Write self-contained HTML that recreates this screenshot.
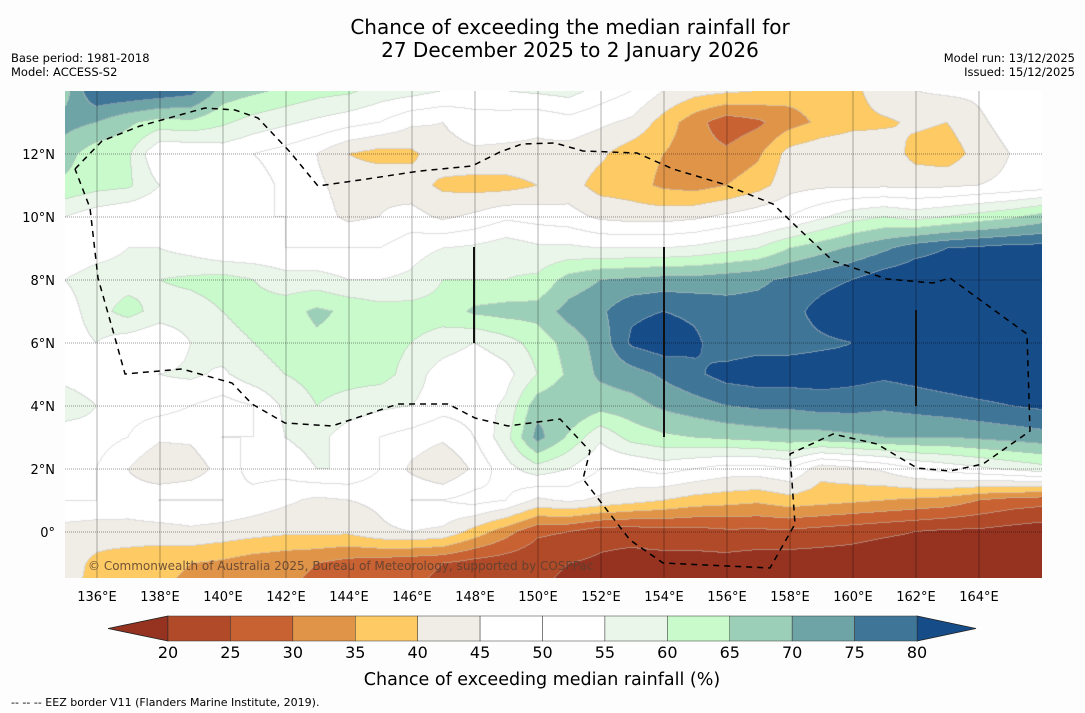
<!DOCTYPE html>
<html><head><meta charset="utf-8"><title>Chance of exceeding the median rainfall</title>
<style>
html,body{margin:0;padding:0;background:#fdfdfd;}
#wrap{position:relative;width:1085px;height:713px;overflow:hidden;font-family:"DejaVu Sans","Liberation Sans",sans-serif;color:#111;}
#map{position:absolute;left:65px;top:91px;}
svg{position:absolute;left:0;top:0;}
</style></head>
<body>
<div id="wrap">
<canvas id="map" width="977" height="487"></canvas>
<svg id="ov" width="1085" height="713">
  <text x="570" y="34" text-anchor="middle" font-size="20">Chance of exceeding the median rainfall for</text>
  <text x="570" y="57" text-anchor="middle" font-size="20">27 December 2025 to 2 January 2026</text>
  <text x="11" y="62" font-size="11.5">Base period: 1981-2018</text>
  <text x="11" y="76" font-size="11.5">Model: ACCESS-S2</text>
  <text x="1075" y="62" font-size="11.5" text-anchor="end">Model run: 13/12/2025</text>
  <text x="1075" y="76" font-size="11.5" text-anchor="end">Issued: 15/12/2025</text>
  <g id="grid"></g>
  <g id="eez"></g>
  <g id="axes"></g>
  <text x="88" y="570" font-size="12" fill="#5a4030" fill-opacity="0.85">© Commonwealth of Australia 2025, Bureau of Meteorology, supported by COSPPac</text>
  <g id="cbar"></g>
  <text x="542" y="685" text-anchor="middle" font-size="17.5">Chance of exceeding median rainfall (%)</text>
  <text x="11" y="706" font-size="11">--  --  -- EEZ border V11 (Flanders Marine Institute, 2019).</text>
</svg>
</div>
<script>
// grid longitudes 135..166, latitudes 14..-2
const lonStart = 135;
const latStart = 14;
const r14 = [68,80,80,79,77,68,66,64,62,61,58,57,55,53,55,56,57,53,50,45,42,41,40,37,37,38,44,45,46,46,48,50];
const r13 = [72,70,66,63,64,61,58,56,54,52,50,46,45,48,47,46,48,46,44,38,32,27,29,33,36,38,39,41,40,44,47,48];
const r12 = [67,62,61,50,50,52,50,48,45,40,38,39,43,44,44,44,43,41,37,35,32,31,34,42,44,45,44,38,37,42,45,46];
const r11 = [64,62,61,55,50,50,52,49,46,43,44,42,39,38,38,40,42,38,37,34,33,35,38,43,44,44,44,44,44,45,46,47];
const r10 = [55,52,50,50,50,50,50,50,47,44,45,47,44,46,49,48,47,44,43,43,44,46,48,50,54,58,60,58,60,62,64,67];
const r9  = [50,52,55,55,53,50,50,50,50,50,50,53,55,56,58,56,56,55,55,55,56,58,60,65,68,71,74,78,80,81,82,82];
const r8  = [55,58,58,60,61,62,60,57,57,55,55,56,60,60,60,61,67,70,71,72,72,73,74,76,78,80,83,84,84,84,84,84];
const r7  = [52,58,62,58,58,60,62,63,66,64,62,62,62,66,67,67,72,74,79,80,79,77,77,78,82,85,85,85,85,85,85,85];
const r6  = [52,55,52,50,55,58,60,62,64,63,62,60,58,55,58,62,67,72,81,83,81,77,78,78,79,80,83,85,85,85,85,85];
const r5  = [52,50,52,55,56,54,58,60,62,62,62,58,52,50,53,60,66,71,73,76,79,82,83,83,83,82,81,82,83,84,84,84];
const r4  = [60,55,52,52,50,48,50,56,60,58,56,55,52,52,56,68,70,67,68,71,73,75,76,76,77,77,76,77,78,79,80,81];
const r3  = [50,52,50,46,46,50,50,55,57,52,50,48,46,50,58,72,64,56,62,64,65,66,67,68,68,69,70,70,70,71,72,73];
const r2  = [50,50,45,40,42,47,52,52,55,55,50,44,40,46,53,58,55,50,50,52,50,48,48,50,42,44,46,50,52,54,56,58];
const r1  = [50,50,48,50,50,50,48,46,44,45,46,50,50,52,50,44,46,44,42,40,38,37,36,38,37,36,35,34,33,30,28,27];
const r0  = [43,42,43,43,44,43,42,41,41,41,44,45,44,38,32,26,25,22,22,23,23,24,24,24,23,22,21,20,19,19,18,17];
const rm1 = [42,39,37,36,35,34,32,31,30,28,27,26,25,23,22,21,20,19,18,18,18,18,17,17,17,17,16,16,16,16,15,15];
const rm2 = [42,38,36,35,34,33,31,30,29,27,26,25,24,22,21,20,19,18,17,17,17,17,16,16,16,16,15,15,15,15,14,14];
const rows = [r14,r13,r12,r11,r10,r9,r8,r7,r6,r5,r4,r3,r2,r1,r0,rm1,rm2];
const levels = [20,25,30,35,40,45,50,55,60,65,70,75,80];
const bandColors = ["#953220","#b04a28","#c86232","#e09448","#fdca64","#f0ece6","#ffffff","#ffffff","#eaf6ea","#c8facb","#9ccfb8","#6ea4a6","#3f7698","#164c88"];
const lonTicks = [136,138,140,142,144,146,148,150,152,154,156,158,160,162,164];
const latTicks = [0,2,4,6,8,10,12];

// axis functions
const PX = 31.5;
function xOf(lon){return 65.5 + (lon - lonStart) * PX;}
function yOf(lat){return 91 + (latStart - lat) * PX;}

function hex(c){return [parseInt(c.slice(1,3),16),parseInt(c.slice(3,5),16),parseInt(c.slice(5,7),16)];}
const rgb = bandColors.map(hex);
function bandOf(v){let b=0;for(let i=0;i<levels.length;i++){if(v>=levels[i])b=i+1;}return b;}
function valAt(lon,lat){
  let c=lon-lonStart, r=latStart-lat;
  const nc=rows[0].length-1, nr=rows.length-1;
  c=Math.max(0,Math.min(nc-1e-6,c)); r=Math.max(0,Math.min(nr-1e-6,r));
  const c0=Math.floor(c), r0i=Math.floor(r), fc=c-c0, fr=r-r0i;
  const a=rows[r0i][c0], b=rows[r0i][c0+1], d=rows[r0i+1][c0], e=rows[r0i+1][c0+1];
  return (a*(1-fc)+b*fc)*(1-fr)+(d*(1-fc)+e*fc)*fr;
}
(function drawMap(){
  const cv=document.getElementById('map'); const ctx=cv.getContext('2d');
  const W=cv.width,H=cv.height; const img=ctx.createImageData(W,H);
  const bands=new Int8Array(W*H);
  for(let y=0;y<H;y++){for(let x=0;x<W;x++){
    const lon=lonStart+(x+0.5)/PX, lat=latStart-(y+0.5)/PX;
    bands[y*W+x]=bandOf(valAt(lon,lat));
  }}
  for(let y=0;y<H;y++){for(let x=0;x<W;x++){
    const i=y*W+x,b=bands[i]; let col=rgb[b];
    let edge=(x<W-1&&bands[i+1]!==b)||(y<H-1&&bands[i+W]!==b);
    const o=i*4;
    if(edge){img.data[o]=(col[0]+190)/2;img.data[o+1]=(col[1]+190)/2;img.data[o+2]=(col[2]+190)/2;}
    else{img.data[o]=col[0];img.data[o+1]=col[1];img.data[o+2]=col[2];}
    img.data[o+3]=255;
  }}
  ctx.putImageData(img,0,0);
})();

const NS="http://www.w3.org/2000/svg";
function mk(tag,attrs,parent){const el=document.createElementNS(NS,tag);for(const k in attrs)el.setAttribute(k,attrs[k]);parent.appendChild(el);return el;}
const grid=document.getElementById('grid');
lonTicks.forEach(function(lon){
  const el=mk('line',{x1:xOf(lon),x2:xOf(lon),y1:91,y2:578,stroke:'#000','stroke-opacity':0.3,'stroke-width':1},grid);
  
  
});
latTicks.forEach(function(lat){
  const el=mk('line',{x1:65,x2:1042,y1:yOf(lat),y2:yOf(lat),stroke:'#000','stroke-opacity':0.4,'stroke-width':1,'stroke-dasharray':'1 1'},grid);
  
  
});
const axes=document.getElementById('axes');
lonTicks.forEach(function(lon){
  const t=mk('text',{x:xOf(lon),y:601,'text-anchor':'middle','font-size':13},axes);
  t.textContent=lon+'°E';
  
  
});
latTicks.forEach(function(lat){
  const t=mk('text',{x:55,y:yOf(lat)+5,'text-anchor':'end','font-size':13},axes);
  t.textContent=lat===0?'0°':lat+'°N';
  
  
});
// EEZ boundary (geographic outline, pixel path)
const eez=document.getElementById('eez');
const eezPts="75,169 102,141 140,126 205,108 235,110 258,118 290,152 318,186 360,180 420,171 472,166 500,152 522,144 555,143 583,151 637,153 673,169 723,184 773,204 800,230 833,261 887,279 933,283 950,278 1027,334 1030,431 983,464 950,471 917,468 877,444 833,434 790,454 795,524 770,568 663,563 630,540 583,479 590,451 560,419 508,426 475,418 448,404 398,404 332,426 285,423 252,404 232,383 182,369 125,374 115,338 98,278 90,208 75,169";
const pl=mk('polyline',{points:eezPts,fill:'none',stroke:'#000','stroke-width':1.5,'stroke-dasharray':'6 5'},eez);


[[474,247,343],[664,247,437],[916,310,406]].forEach(function(s){
  const l=mk('line',{x1:s[0],x2:s[0],y1:s[1],y2:s[2],stroke:'#111','stroke-width':2},eez);
  
  
});
// colorbar
const cb=document.getElementById('cbar');
const cbX0=168,cbX1=917,cbY=616,cbH=25;
function cbx(v){return cbX0+(v-20)/60*(cbX1-cbX0);}
const lo=mk('polygon',{points:'108,'+(cbY+cbH/2)+' '+cbX0+','+cbY+' '+cbX0+','+(cbY+cbH),fill:bandColors[0],stroke:'#222','stroke-width':0.8},cb);


const hi=mk('polygon',{points:'976,'+(cbY+cbH/2)+' '+cbX1+','+cbY+' '+cbX1+','+(cbY+cbH),fill:bandColors[13],stroke:'#222','stroke-width':0.8},cb);


for(let i=0;i<levels.length-1;i++){
  const r=mk('rect',{x:cbx(levels[i]),y:cbY,width:cbx(levels[i+1])-cbx(levels[i]),height:cbH,fill:bandColors[i+1],stroke:'#333','stroke-width':0.5},cb);
  
  
}
levels.forEach(function(v){
  const t=mk('text',{x:cbx(v),y:658,'text-anchor':'middle','font-size':16},cb);
  t.textContent=v;
  
  
});
</script>
</body></html>
